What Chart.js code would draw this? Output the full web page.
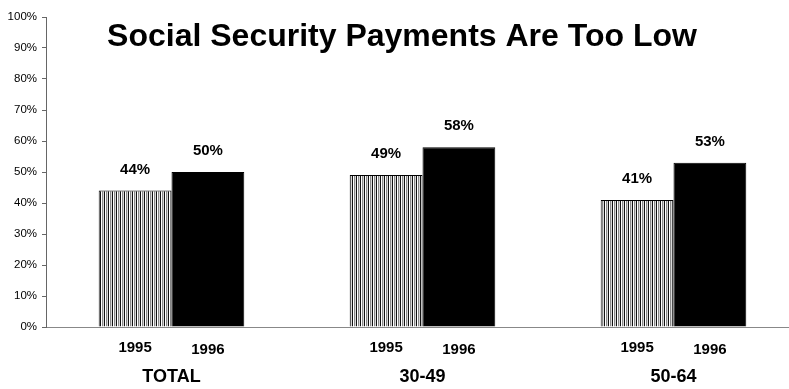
<!DOCTYPE html>
<html>
<head>
<meta charset="utf-8">
<script src="https://cdn.jsdelivr.net/npm/chart.js@4/dist/chart.umd.min.js"></script>
<style>
  html, body { margin: 0; padding: 0; background: #fff; overflow: hidden; }
  #wrap { width: 810px; height: 389px; }
</style>
</head>
<body>
<div id="wrap"><canvas id="chart" width="810" height="389"></canvas></div>
<script>
var groups = ["TOTAL", "30-49", "50-64"];
var years = ["1995", "1996"];
var values1995 = [44, 49, 41];
var values1996 = [50, 58, 53];
var titleText = "Social Security Payments Are Too Low";

// vertical stripe fill for the 1995 bars
function stripes() {
  var c = document.createElement("canvas");
  c.width = 4; c.height = 4;
  var g = c.getContext("2d");
  g.fillStyle = "#fff"; g.fillRect(0, 0, 4, 4);
  g.fillStyle = "#111"; g.fillRect(0, 0, 1, 4);
  g.fillStyle = "#8a8a8a"; g.fillRect(2, 0, 1, 4);
  g.fillStyle = "#d8d8d8"; g.fillRect(3, 0, 1, 4);
  return g.createPattern(c, "repeat");
}

var labelsPlugin = {
  id: "labels",
  afterDatasetsDraw: function(chart) {
    var ctx = chart.ctx;
    var area = chart.chartArea;
    ctx.save();
    ctx.fillStyle = "#000";
    ctx.textAlign = "center";
    ctx.textBaseline = "middle";
    chart.data.datasets.forEach(function(ds, i) {
      var meta = chart.getDatasetMeta(i);
      meta.data.forEach(function(bar, j) {
        ctx.font = "bold 15px 'Liberation Sans', Arial, sans-serif";
        ctx.fillText(ds.data[j] + "%", bar.x, bar.y - 21);
        ctx.fillText(years[i], bar.x, area.bottom + 21 + i * 2);
      });
    });
    ctx.font = "bold 32px 'Liberation Sans', Arial, sans-serif";
    ctx.textBaseline = "alphabetic";
    ctx.fillText(titleText, 402, 46);
    ctx.restore();
  }
};

new Chart(document.getElementById("chart"), {
  type: "bar",
  data: {
    labels: groups,
    datasets: [{
      label: years[0],
      data: values1995,
      backgroundColor: stripes(),
      borderColor: "#000",
      borderWidth: 1
    }, {
      label: years[1],
      data: values1996,
      backgroundColor: "#000",
      borderColor: "#000",
      borderWidth: 1
    }]
  },
  options: {
    responsive: false,
    animation: false,
    layout: { padding: { top: 17, left: 0, right: 11, bottom: 0 } },
    categoryPercentage: 0.58,
    barPercentage: 1.0,
    plugins: { legend: { display: false }, tooltip: { enabled: false } },
    scales: {
      x: {
        grid: { display: false, drawTicks: false },
        border: { color: "#888", width: 1 },
        ticks: {
          padding: 39,
          color: "#000",
          font: { family: "'Liberation Sans', Arial, sans-serif", size: 18, weight: "bold" }
        },
        afterFit: function(s) { s.height = 62; }
      },
      y: {
        min: 0, max: 100,
        ticks: {
          stepSize: 10,
          padding: 5,
          color: "#000",
          font: { family: "'Liberation Sans', Arial, sans-serif", size: 11.5 },
          callback: function(v) { return v + "%"; }
        },
        grid: { drawOnChartArea: false, tickLength: 4, color: "#666" },
        border: { color: "#666", width: 1 },
        afterFit: function(s) { s.width = 46; }
      }
    }
  },
  plugins: [labelsPlugin]
});
</script>
</body>
</html>
